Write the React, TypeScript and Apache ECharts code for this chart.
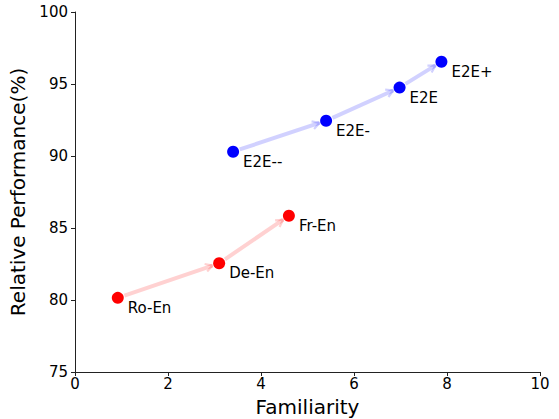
import React, { useEffect, useRef } from "react";
import * as echarts from "echarts";

const blueNames = ["E2E--", "E2E-", "E2E", "E2E+"];
const blueX = [3.4, 5.4, 6.98, 7.88];
const blueY = [90.3, 92.45, 94.75, 96.55];

const redNames = ["Ro-En", "De-En", "Fr-En"];
const redX = [0.92, 3.1, 4.6];
const redY = [80.15, 82.55, 85.85];

const xTicks = [0, 2, 4, 6, 8, 10];
const yTicks = [75, 80, 85, 90, 95, 100];

function pts(xs: number[], ys: number[], names: string[]) {
  return xs.map((x, i) => ({ value: [x, ys[i]], name: names[i] }));
}
function segs(xs: number[], ys: number[]) {
  const out: number[][] = [];
  for (let i = 0; i < xs.length - 1; i++) {
    out.push([xs[i], ys[i], xs[i + 1], ys[i + 1]]);
  }
  return out;
}

function arrowSeries(xs: number[], ys: number[], color: string) {
  return {
    type: "custom",
    coordinateSystem: "cartesian2d",
    data: segs(xs, ys),
    encode: { x: [0, 2], y: [1, 3] },
    z: 1,
    silent: true,
    renderItem: (params: any, api: any) => {
      const a = api.coord([api.value(0), api.value(1)]);
      const b = api.coord([api.value(2), api.value(3)]);
      const dx = b[0] - a[0];
      const dy = b[1] - a[1];
      const len = Math.sqrt(dx * dx + dy * dy);
      const ux = dx / len;
      const uy = dy / len;
      const s = 7;
      const p1 = [a[0] + ux * s, a[1] + uy * s];
      const p2 = [b[0] - ux * s, b[1] - uy * s];
      const h = 7;
      const w = 4;
      const base = [p2[0] - ux * h, p2[1] - uy * h];
      const l = [base[0] - uy * w, base[1] + ux * w];
      const r = [base[0] + uy * w, base[1] - ux * w];
      return {
        type: "group",
        children: [
          {
            type: "line",
            shape: { x1: p1[0], y1: p1[1], x2: p2[0], y2: p2[1] },
            style: { stroke: color, lineWidth: 4, lineCap: "butt" },
          },
          {
            type: "polyline",
            shape: { points: [l, p2, r] },
            style: { stroke: color, lineWidth: 2.2, fill: "none" },
          },
        ],
      };
    },
  };
}

export default function App() {
  const ref = useRef<HTMLDivElement>(null);
  useEffect(() => {
    const chart = echarts.init(ref.current!, undefined, { renderer: "svg" });
    const font = "DejaVu Sans";
    const label = {
      show: true,
      position: "right",
      formatter: "{b}",
      offset: [-1, 10],
      color: "#000",
      fontSize: 15,
      fontFamily: font,
    };
    const axisCommon = {
      type: "value",
      nameLocation: "middle",
      nameTextStyle: { fontSize: 20, fontFamily: font, color: "#000" },
      axisLine: { show: true, lineStyle: { color: "#222", width: 1 } },
      axisTick: { show: true, length: 4, lineStyle: { color: "#222" } },
      splitLine: { show: false },
    };
    chart.setOption({
      animation: false,
      grid: {
        left: 75,
        top: 12,
        width: 465,
        height: 360,
        containLabel: false,
        outerBoundsMode: "none",
      },
      xAxis: {
        ...axisCommon,
        min: xTicks[0],
        max: xTicks[xTicks.length - 1],
        interval: 2,
        name: "Familiarity",
        nameGap: 25,
        axisLabel: { fontSize: 15, fontFamily: font, color: "#000", margin: 4 },
      },
      yAxis: {
        ...axisCommon,
        min: yTicks[0],
        max: yTicks[yTicks.length - 1],
        interval: 5,
        name: "Relative Performance(%)",
        nameGap: 37,
        axisLabel: { fontSize: 15, fontFamily: font, color: "#000", margin: 7 },
      },
      series: [
        arrowSeries(blueX, blueY, "rgba(0,0,255,0.18)"),
        arrowSeries(redX, redY, "rgba(255,0,0,0.18)"),
        {
          type: "scatter",
          data: pts(blueX, blueY, blueNames),
          symbolSize: 12,
          itemStyle: { color: "#0000ff", opacity: 1 },
          label,
          z: 3,
        },
        {
          type: "scatter",
          data: pts(redX, redY, redNames),
          symbolSize: 12,
          itemStyle: { color: "#ff0000", opacity: 1 },
          label,
          z: 3,
        },
      ],
    });
    return () => chart.dispose();
  }, []);
  return (
    <div
      ref={ref}
      style={{ position: "absolute", left: 0, top: 0, width: 559, height: 419 }}
    />
  );
}
